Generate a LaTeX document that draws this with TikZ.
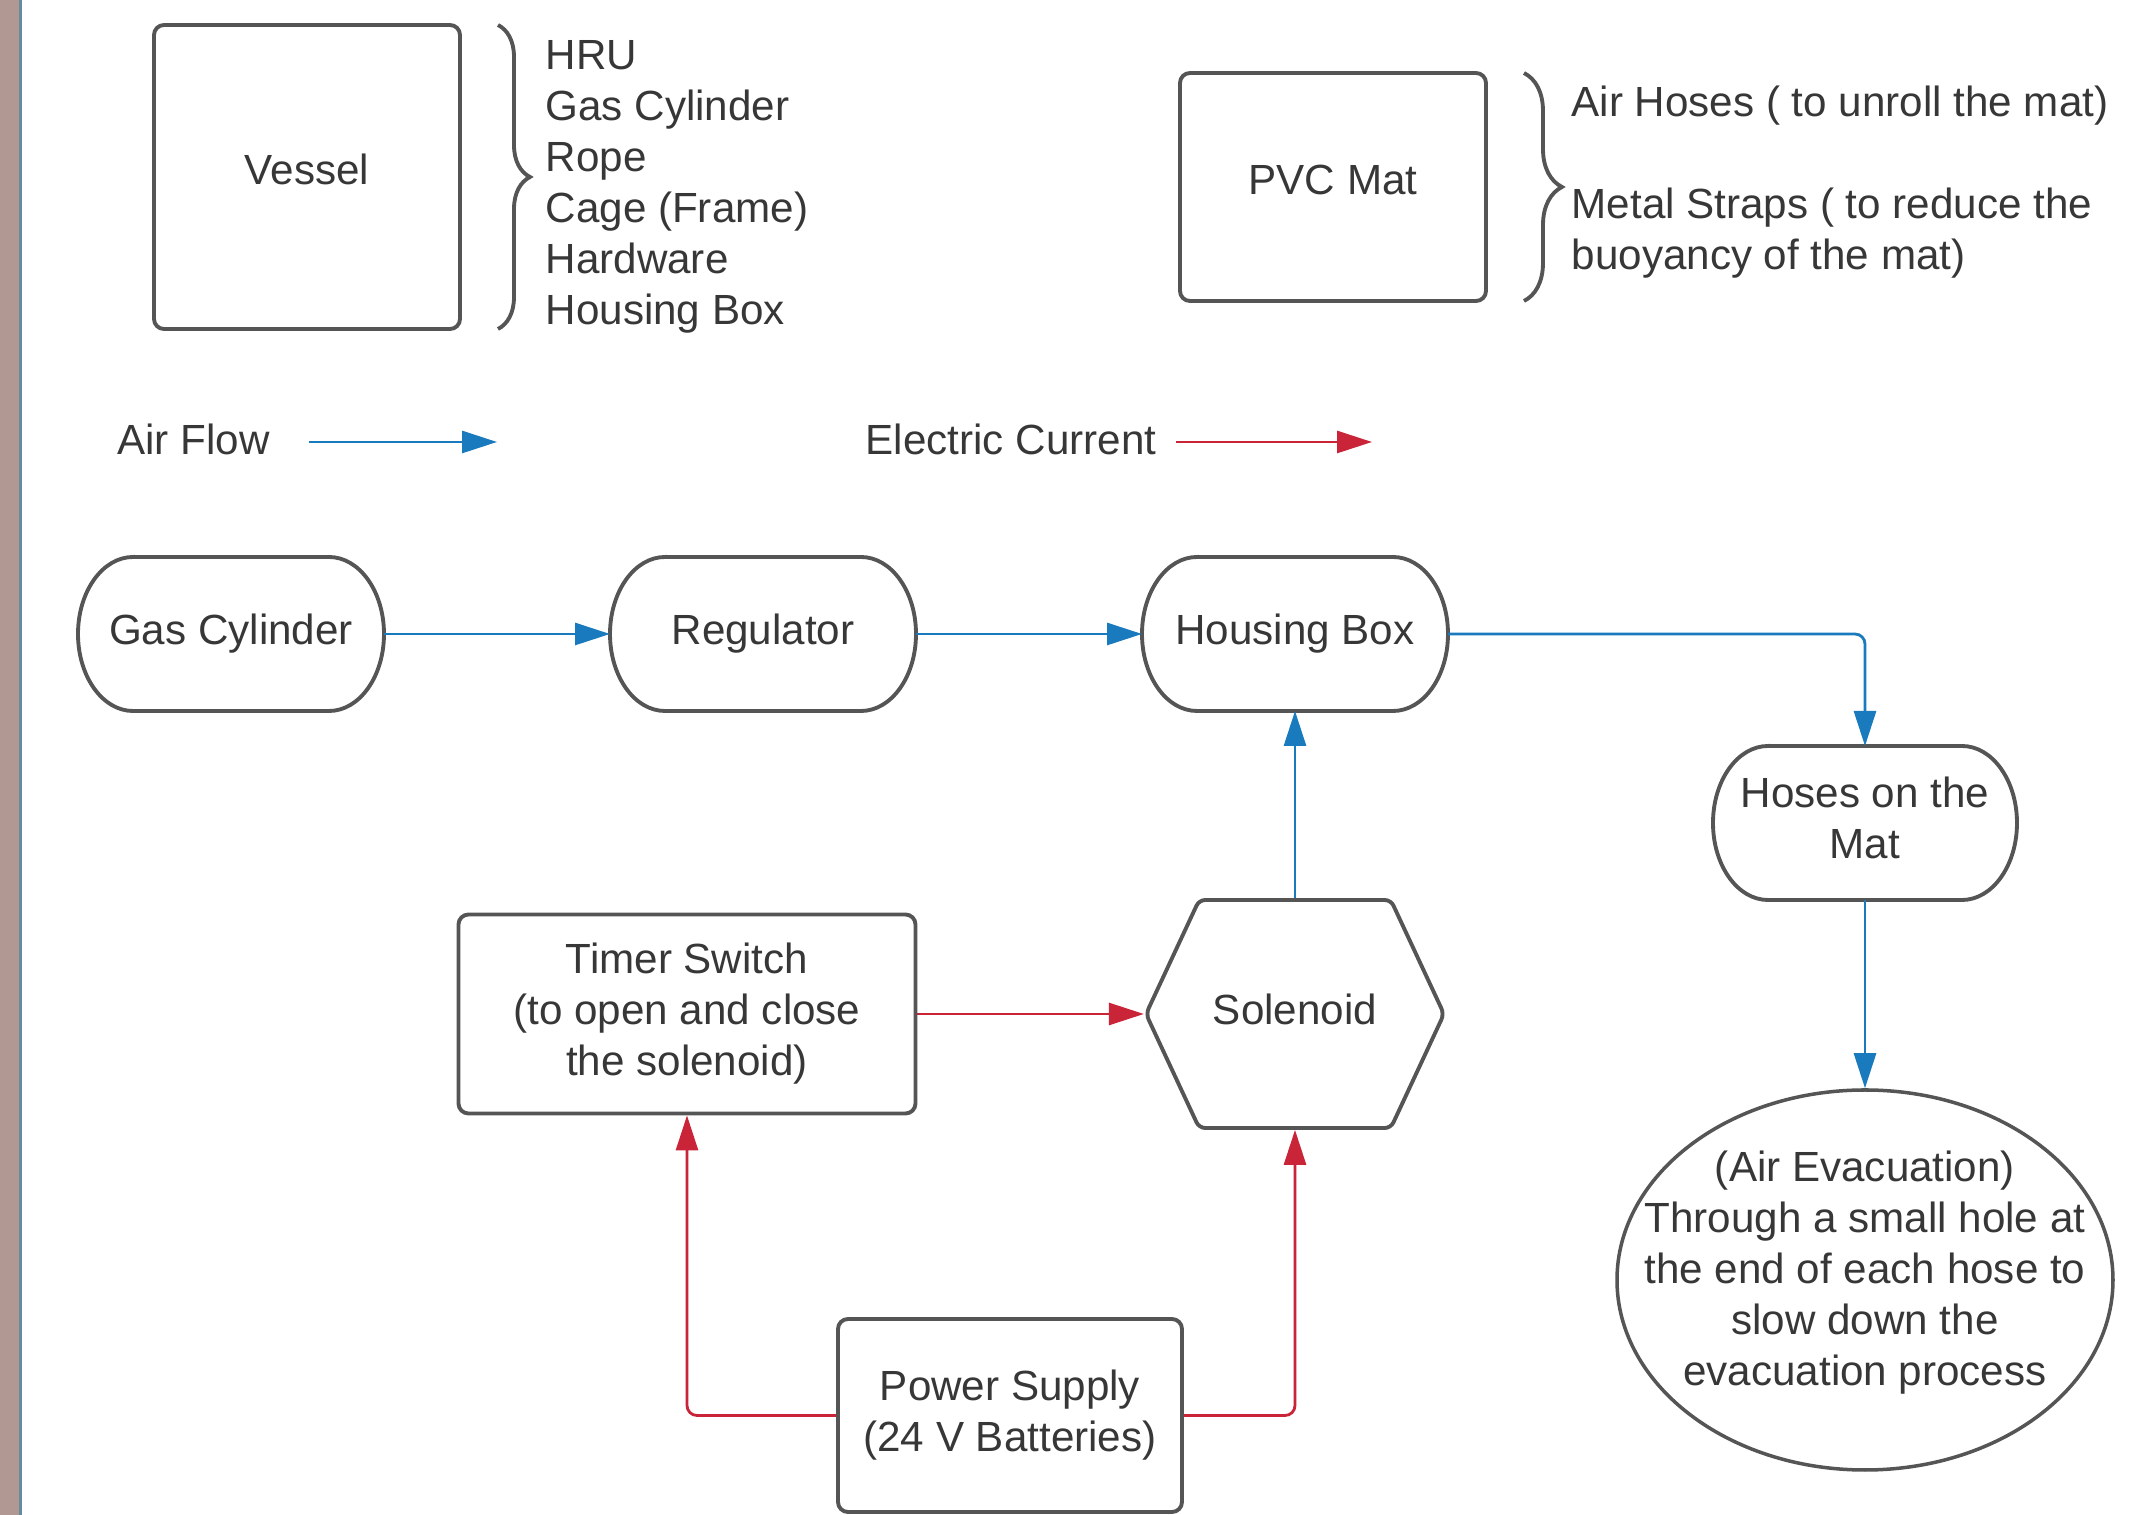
\documentclass[tikz,border=0pt]{standalone}
\usepackage{fontspec}
\setmainfont{Liberation Sans}
\usetikzlibrary{arrows.meta, shapes.geometric, shapes.symbols, decorations.pathreplacing}

\definecolor{boxgray}{RGB}{85,85,85}
\definecolor{txtgray}{RGB}{55,55,55}
\definecolor{airblue}{RGB}{26,122,190}
\definecolor{elecred}{RGB}{201,36,56}
\definecolor{stripbrown}{RGB}{178,152,146}
\definecolor{stripblue}{RGB}{100,140,160}

\begin{document}
\begin{tikzpicture}[
  font=\fontsize{12}{14.5}\selectfont, text=txtgray,
  block/.style={draw=boxgray, line width=1.1pt, rounded corners=0.1cm, align=center, inner sep=0pt},
  term/.style={minimum width=3.06cm, minimum height=1.54cm, inner sep=0pt, outer sep=0pt, align=center},
  air/.style={draw=airblue, line width=0.8pt, -{Triangle[length=0.35cm, width=0.22cm]}, rounded corners=0.1cm},
  elec/.style={draw=elecred, line width=0.8pt, -{Triangle[length=0.35cm, width=0.22cm]}, rounded corners=0.1cm},
  curly/.style={draw=boxgray, line width=1.1pt, decorate, decoration={brace, amplitude=#1}},
]

% Page
\fill[white] (0,0) rectangle (21.52,15.15);
\useasboundingbox (0,0) rectangle (21.52,15.15);
\fill[stripbrown] (0,0) rectangle (0.19,15.15);
\fill[stripblue]  (0.19,0) rectangle (0.22,15.15);

% Parts
\node[block, minimum width=3.06cm, minimum height=3.04cm,
  label={[yshift=0.08cm]center:Vessel}] (vessel) at (3.07,13.38) {};
\draw[curly=0.32cm] (4.98,14.90) -- (4.98,11.86);
\node[anchor=west, align=left, inner sep=0pt] (vparts) at (5.45,13.285)
{HRU\\Gas Cylinder\\Rope\\Cage (Frame)\\Hardware\\Housing Box};

\node[block, minimum width=3.06cm, minimum height=2.28cm,
  label={[yshift=0.07cm]center:PVC Mat}] (mat) at (13.33,13.28) {};
\draw[curly=0.38cm] (15.24,14.42) -- (15.24,12.14);
\node[anchor=west, inner sep=0pt] (hoselist) at (15.71,14.09) {Air Hoses ( to unroll the mat)};
\node[anchor=west, align=left, inner sep=0pt] (straplist) at (15.71,12.815)
{Metal Straps ( to reduce the\\buoyancy of the mat)};

% Legend
\node (airlbl)  at (1.935,10.76) {Air Flow};
\node (eleclbl) at (10.11,10.76) {Electric Current};
\coordinate (airstart)  at (3.09,10.73);
\coordinate (airend)    at (4.97,10.73);
\coordinate (elecstart) at (11.76,10.73);
\coordinate (elecend)   at (13.72,10.73);
\draw[air]  (airstart) -- (airend);
\draw[elec] (elecstart) -- (elecend);

% Air line
\node[term] (gas)   at (2.31,8.81)  {Gas Cylinder};
\node[term] (reg)   at (7.63,8.81)  {Regulator};
\node[term] (hbox)  at (12.95,8.81) {Housing Box};
\node[term, minimum width=3.04cm,
  label={[align=center, yshift=0.05cm]center:{Hoses on the\\Mat}}] (hoses) at (18.65,6.92) {};
\foreach \n in {gas, reg, hbox, hoses}
  \draw[boxgray, line width=1.1pt]
    ([xshift=0.55cm]\n.north west) -- ([xshift=-0.55cm]\n.north east)
    arc[start angle=90, end angle=-90, x radius=0.55cm, y radius=0.77cm]
    -- ([xshift=0.55cm]\n.south west)
    arc[start angle=270, end angle=90, x radius=0.55cm, y radius=0.77cm] -- cycle;

\node[draw=boxgray, line width=1pt, ellipse, minimum width=4.96cm, minimum height=3.80cm, inner sep=0pt,
  label={[align=center, yshift=0.075cm]center:{(Air Evacuation)\\Through a small hole at\\the end of each hose to\\slow down the\\evacuation process}}]
  (evac) at (18.65,2.35) {};

% Electric line
\node[block, signal, signal to=east and west, signal pointer angle=130,
  minimum width=2.98cm, minimum height=2.28cm, rounded corners=0.06cm,
  label={[yshift=0.05cm]center:Solenoid}] (sol) at (12.95,5.01) {};
\node[block, minimum width=4.57cm, minimum height=1.99cm] (timer) at (6.87,5.01)
{Timer Switch\\(to open and close\\the solenoid)};
\node[block, minimum width=3.44cm, minimum height=1.93cm] (power) at (10.10,0.995)
{Power Supply\\(24 V Batteries)};

% Connectors
\draw[air] (gas.east) -- (reg.west);
\draw[air] (reg.east) -- (hbox.west);
\draw[air] (hbox.east) -| (hoses.north);
\draw[air] (sol.north) -- (hbox.south);
\draw[air] (hoses.south) -- (evac.north);

\draw[elec] (timer.east) -- (sol.west);
\draw[elec] (power.west) -| (timer.south);
\draw[elec] (power.east) -| (sol.south);

\end{tikzpicture}
\end{document}
